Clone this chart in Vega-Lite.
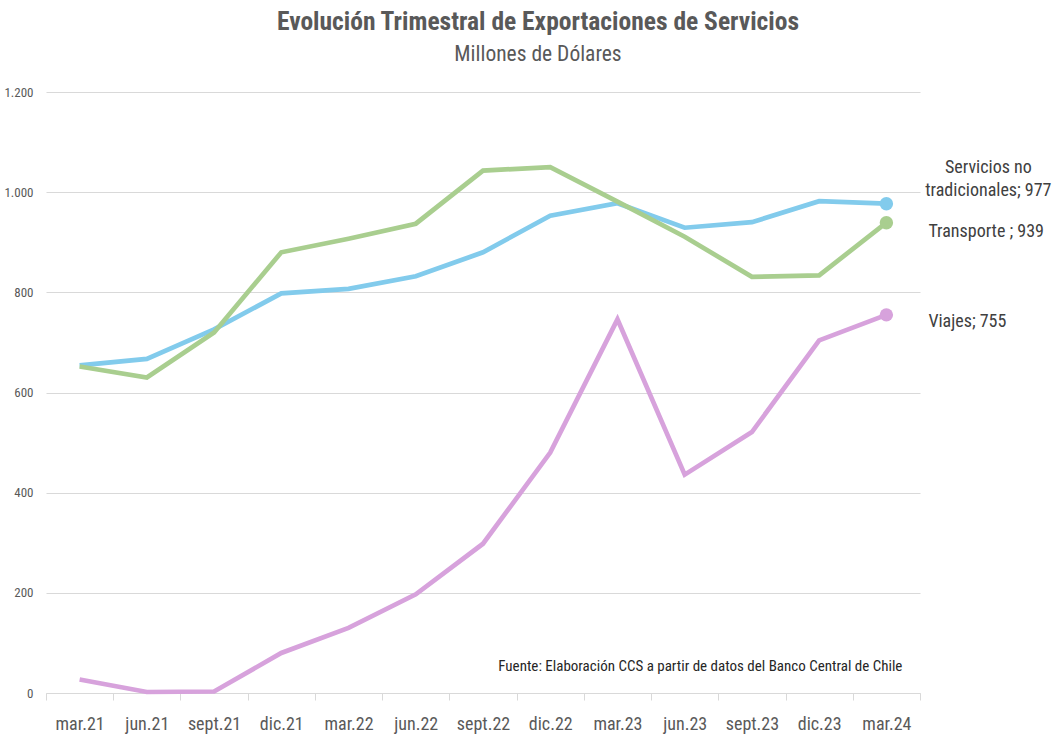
{
  "$schema": "https://vega.github.io/schema/vega-lite/v6.json",
  "width": 874,
  "height": 601,
  "autosize": "none",
  "padding": {"left": 46, "top": 92, "right": 133, "bottom": 45},
  "background": "white",
  "config": {
    "view": {"stroke": null},
    "font": "Roboto Condensed, DejaVu Sans Condensed, sans-serif"
  },
  "title": {
    "text": "Evolución Trimestral de Exportaciones de Servicios",
    "subtitle": "Millones de Dólares",
    "anchor": "middle",
    "dx": 55,
    "offset": 21,
    "fontSize": 25.5,
    "fontWeight": "bold",
    "color": "#595959",
    "subtitleFontSize": 21.5,
    "subtitleColor": "#595959",
    "subtitlePadding": 8,
    "font": "Roboto Condensed, DejaVu Sans Condensed, sans-serif",
    "subtitleFont": "Roboto Condensed, DejaVu Sans Condensed, sans-serif"
  },
  "data": {
    "values": [
      {"trimestre": "mar.21", "serie": "Servicios no tradicionales", "valor": 654},
      {"trimestre": "jun.21", "serie": "Servicios no tradicionales", "valor": 667},
      {"trimestre": "sept.21", "serie": "Servicios no tradicionales", "valor": 726},
      {"trimestre": "dic.21", "serie": "Servicios no tradicionales", "valor": 798},
      {"trimestre": "mar.22", "serie": "Servicios no tradicionales", "valor": 807},
      {"trimestre": "jun.22", "serie": "Servicios no tradicionales", "valor": 832},
      {"trimestre": "sept.22", "serie": "Servicios no tradicionales", "valor": 880},
      {"trimestre": "dic.22", "serie": "Servicios no tradicionales", "valor": 953},
      {"trimestre": "mar.23", "serie": "Servicios no tradicionales", "valor": 978},
      {"trimestre": "jun.23", "serie": "Servicios no tradicionales", "valor": 929},
      {"trimestre": "sept.23", "serie": "Servicios no tradicionales", "valor": 940},
      {"trimestre": "dic.23", "serie": "Servicios no tradicionales", "valor": 982},
      {"trimestre": "mar.24", "serie": "Servicios no tradicionales", "valor": 977, "etiqueta": "Servicios no\ntradicionales; 977"},
      {"trimestre": "mar.21", "serie": "Transporte", "valor": 652},
      {"trimestre": "jun.21", "serie": "Transporte", "valor": 630},
      {"trimestre": "sept.21", "serie": "Transporte", "valor": 720},
      {"trimestre": "dic.21", "serie": "Transporte", "valor": 880},
      {"trimestre": "mar.22", "serie": "Transporte", "valor": 907},
      {"trimestre": "jun.22", "serie": "Transporte", "valor": 937},
      {"trimestre": "sept.22", "serie": "Transporte", "valor": 1043},
      {"trimestre": "dic.22", "serie": "Transporte", "valor": 1050},
      {"trimestre": "mar.23", "serie": "Transporte", "valor": 981},
      {"trimestre": "jun.23", "serie": "Transporte", "valor": 911},
      {"trimestre": "sept.23", "serie": "Transporte", "valor": 831},
      {"trimestre": "dic.23", "serie": "Transporte", "valor": 834},
      {"trimestre": "mar.24", "serie": "Transporte", "valor": 939, "etiqueta": "Transporte ; 939"},
      {"trimestre": "mar.21", "serie": "Viajes", "valor": 27},
      {"trimestre": "jun.21", "serie": "Viajes", "valor": 2},
      {"trimestre": "sept.21", "serie": "Viajes", "valor": 3},
      {"trimestre": "dic.21", "serie": "Viajes", "valor": 80},
      {"trimestre": "mar.22", "serie": "Viajes", "valor": 130},
      {"trimestre": "jun.22", "serie": "Viajes", "valor": 197},
      {"trimestre": "sept.22", "serie": "Viajes", "valor": 298},
      {"trimestre": "dic.22", "serie": "Viajes", "valor": 480},
      {"trimestre": "mar.23", "serie": "Viajes", "valor": 746},
      {"trimestre": "jun.23", "serie": "Viajes", "valor": 436},
      {"trimestre": "sept.23", "serie": "Viajes", "valor": 521},
      {"trimestre": "dic.23", "serie": "Viajes", "valor": 704},
      {"trimestre": "mar.24", "serie": "Viajes", "valor": 755, "etiqueta": "Viajes; 755"}
    ]
  },
  "encoding": {
    "x": {
      "field": "trimestre",
      "type": "ordinal",
      "scale": {
        "type": "band",
        "domain": ["mar.21", "jun.21", "sept.21", "dic.21", "mar.22", "jun.22", "sept.22", "dic.22", "mar.23", "jun.23", "sept.23", "dic.23", "mar.24"],
        "paddingInner": 0,
        "paddingOuter": 0
      },
      "axis": {
        "title": null,
        "tickBand": "extent",
        "tickSize": 7,
        "tickColor": "#d9d9d9",
        "domainColor": "#d9d9d9",
        "labelFontSize": 18,
        "labelColor": "#595959",
        "labelPadding": 15,
        "labelAngle": 0,
        "grid": false
      }
    },
    "y": {
      "field": "valor",
      "type": "quantitative",
      "scale": {"domain": [0, 1200], "nice": false},
      "axis": {
        "title": null,
        "values": [0, 200, 400, 600, 800, 1000, 1200],
        "labelExpr": "replace(format(datum.value, ','), ',', '.')",
        "domain": false,
        "ticks": false,
        "grid": true,
        "gridColor": "#d9d9d9",
        "labelFontSize": 13,
        "labelColor": "#595959",
        "labelPadding": 13
      }
    }
  },
  "layer": [
    {
      "mark": {"type": "line", "strokeWidth": 4.7, "strokeJoin": "miter"},
      "encoding": {
        "color": {
          "field": "serie",
          "type": "nominal",
          "scale": {
            "domain": ["Servicios no tradicionales", "Transporte", "Viajes"],
            "range": ["#82CBEC", "#A9CE8F", "#D7A2DC"]
          },
          "legend": null
        }
      }
    },
    {
      "transform": [{"filter": "datum.trimestre == 'mar.24'"}],
      "mark": {"type": "point", "filled": true, "size": 180, "opacity": 1},
      "encoding": {
        "color": {
          "field": "serie",
          "type": "nominal",
          "scale": {
            "domain": ["Servicios no tradicionales", "Transporte", "Viajes"],
            "range": ["#82CBEC", "#A9CE8F", "#D7A2DC"]
          },
          "legend": null
        }
      }
    },
    {
      "transform": [{"filter": "datum.serie == 'Servicios no tradicionales' && datum.trimestre == 'mar.24'"}],
      "mark": {"type": "text", "align": "center", "baseline": "alphabetic", "dx": 102, "dy": -31, "fontSize": 18, "lineHeight": 23, "lineBreak": "\n", "color": "#404040"},
      "encoding": {"text": {"field": "etiqueta"}}
    },
    {
      "transform": [{"filter": "datum.serie == 'Transporte' && datum.trimestre == 'mar.24'"}],
      "mark": {"type": "text", "align": "left", "baseline": "alphabetic", "dx": 42, "dy": 14, "fontSize": 18, "color": "#404040"},
      "encoding": {"text": {"field": "etiqueta"}}
    },
    {
      "transform": [{"filter": "datum.serie == 'Viajes' && datum.trimestre == 'mar.24'"}],
      "mark": {"type": "text", "align": "left", "baseline": "alphabetic", "dx": 42, "dy": 12, "fontSize": 18, "color": "#404040"},
      "encoding": {"text": {"field": "etiqueta"}}
    },
    {
      "transform": [{"filter": "datum.serie == 'Viajes' && datum.trimestre == 'mar.24'"}],
      "mark": {"type": "text", "align": "right", "baseline": "middle", "dx": 16, "fontSize": 15, "color": "#262626"},
      "encoding": {
        "y": {"datum": 53, "type": "quantitative"},
        "text": {"value": "Fuente: Elaboración CCS a partir de datos del Banco Central de Chile"}
      }
    }
  ]
}
